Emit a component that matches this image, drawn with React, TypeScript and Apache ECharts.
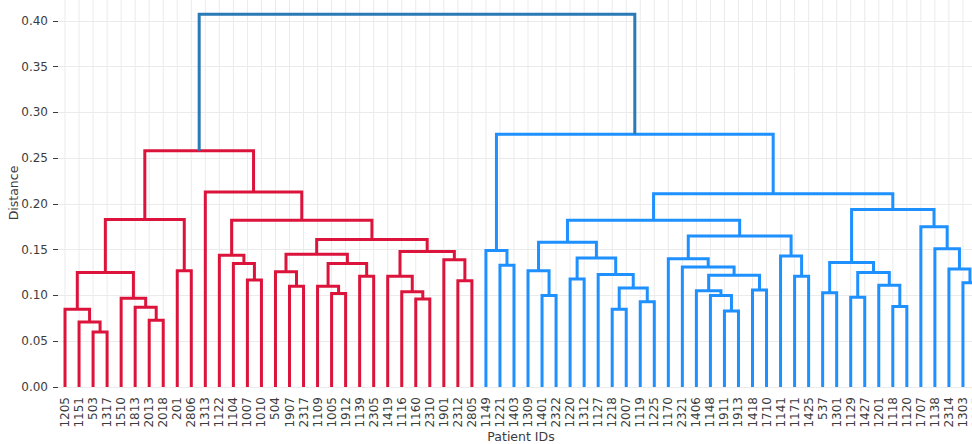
import React, { useEffect, useRef } from 'react';
import * as echarts from 'echarts';

// Leaf (patient) labels in dendrogram order
const leafLabels: string[] = [
  '1205', '1151', '503', '1317', '1510', '1813', '2013', '2018', '201', '2806',
  '1313', '1122', '1104', '1007', '1010', '504', '1907', '2317', '1109', '1005',
  '1912', '1139', '2305', '1419', '1116', '1160', '2310', '1901', '2312', '2805',
  '1149', '1221', '1403', '1309', '1401', '2322', '1220', '1312', '1127', '1218',
  '2007', '1119', '1225', '1170', '2321', '1406', '1148', '1911', '1913', '1418',
  '1710', '1141', '1171', '1425', '537', '1301', '1129', '1427', '1201', '1118',
  '1120', '1707', '1138', '2314', '1303', '1315',
];

// Linkage (scipy style): indices < n are leaves, >= n are previous merges (n + k)
const mergeLeft: number[] = [
  2, 1, 0, 6, 5, 4, 68, 8, 72, 13, 12, 11, 16, 15, 19, 18, 21, 81, 79, 25,
  24, 23, 28, 27, 87, 84, 77, 10, 74,
  31, 30, 34, 33, 36, 39, 41, 100, 38, 99, 98, 47, 46, 45, 49, 108, 44, 43, 52, 51,
  112, 105, 54, 56, 59, 58, 118, 117, 64, 63, 62, 61, 122, 116, 96, 94,
];
const mergeRight: number[] = [
  3, 66, 67, 7, 69, 70, 71, 9, 73, 14, 75, 76, 17, 78, 20, 80, 22, 82, 83, 26,
  85, 86, 29, 88, 89, 90, 91, 92, 93,
  32, 95, 35, 97, 37, 40, 42, 101, 102, 103, 104, 48, 106, 107, 50, 109, 110, 111, 53, 113,
  114, 115, 55, 57, 60, 119, 120, 121, 65, 123, 124, 125, 126, 127, 128, 129,
];
const mergeHeight: number[] = [
  0.060, 0.071, 0.085, 0.073, 0.087, 0.097, 0.125, 0.127, 0.183, 0.117,
  0.135, 0.144, 0.110, 0.126, 0.102, 0.110, 0.121, 0.135, 0.145, 0.096,
  0.104, 0.121, 0.116, 0.139, 0.148, 0.161, 0.182, 0.213, 0.258,
  0.133, 0.149, 0.100, 0.127, 0.118, 0.085, 0.093, 0.108, 0.123, 0.141,
  0.158, 0.083, 0.100, 0.105, 0.106, 0.122, 0.131, 0.140, 0.121, 0.143,
  0.165, 0.182, 0.103, 0.098, 0.088, 0.111, 0.125, 0.136, 0.114, 0.129,
  0.151, 0.175, 0.194, 0.211, 0.276, 0.407,
];

const colorThreshold = 0.3;
const clusterPalette = ['#DC143C', '#1E90FF'];
const aboveThresholdColor = '#2A7AB6';
const yTicks = [0, 0.05, 0.1, 0.15, 0.2, 0.25, 0.3, 0.35, 0.4];

function buildLinks() {
  const n = leafLabels.length;
  const pos: number[] = leafLabels.map((_, i) => i + 0.5);
  const hgt: number[] = leafLabels.map(() => 0);
  const links: number[][] = [];
  mergeLeft.forEach((a, k) => {
    const b = mergeRight[k];
    const h = mergeHeight[k];
    links.push([pos[a], pos[b], hgt[a], hgt[b], h]);
    pos.push((pos[a] + pos[b]) / 2);
    hgt.push(h);
  });
  // colour assignment (like scipy color_threshold)
  const colors: string[] = new Array(links.length).fill(aboveThresholdColor);
  let next = 0;
  const paint = (node: number, color: string | null) => {
    if (node < n) return;
    const k = node - n;
    let c = color;
    if (c === null && mergeHeight[k] < colorThreshold) {
      c = clusterPalette[next % clusterPalette.length];
      next++;
    }
    colors[k] = c === null ? aboveThresholdColor : c;
    paint(mergeLeft[k], c);
    paint(mergeRight[k], c);
  };
  paint(n + mergeLeft.length - 1, null);
  return { links, colors };
}

export default function App() {
  const ref = useRef<HTMLDivElement>(null);
  useEffect(() => {
    if (!ref.current) return;
    const chart = echarts.init(ref.current, undefined, { renderer: 'svg' });
    const { links, colors } = buildLinks();
    const font = 'DejaVu Sans';
    const textColor = '#3c3c3c';
    const gridColor = '#ebebeb';
    const yMax = 0.45;
    chart.setOption({
      animation: false,
      backgroundColor: '#ffffff',
      textStyle: { fontFamily: font },
      grid: {
        left: 58,
        right: -12,
        top: -25,
        bottom: 57,
        containLabel: false,
        outerBoundsMode: 'none',
      },
      xAxis: [
        {
          type: 'category',
          data: leafLabels,
          boundaryGap: true,
          axisLine: { show: false },
          axisTick: { show: false },
          splitLine: { show: false },
          axisLabel: {
            interval: 0,
            rotate: 90,
            margin: 10,
            fontSize: 12,
            color: textColor,
            fontFamily: font,
          },
          name: 'Patient IDs',
          nameLocation: 'middle',
          nameGap: 43,
          nameMoveOverlap: false,
          nameTextStyle: { fontSize: 12.5, color: textColor, fontFamily: font, lineHeight: 13 },
        },
        {
          type: 'value',
          min: 0,
          max: leafLabels.length,
          show: false,
        },
      ],
      yAxis: {
        type: 'value',
        min: 0,
        max: yMax,
        interval: 0.05,
        axisLine: { show: false },
        axisTick: { show: true, length: 5, lineStyle: { color: textColor, width: 1 } },
        axisLabel: {
          margin: 10,
          fontSize: 12,
          color: textColor,
          fontFamily: font,
          formatter: (v: number) => (yTicks.some((t) => Math.abs(t - v) < 1e-9) ? v.toFixed(2) : ''),
        },
        splitLine: { show: true, lineStyle: { color: gridColor, width: 1 } },
      },
      graphic: [
        {
          type: 'text',
          x: 13,
          y: 193,
          rotation: Math.PI / 2,
          style: {
            text: 'Distance',
            fontSize: 12.5,
            fontFamily: font,
            fill: textColor,
            align: 'center',
            verticalAlign: 'middle',
          },
        },
      ],
      series: [
        {
          type: 'custom',
          name: 'grid',
          xAxisIndex: 1,
          yAxisIndex: 0,
          z: 1,
          silent: true,
          data: leafLabels.map((_, i) => [i + 0.5]),
          renderItem: (params: any, api: any) => {
            const x = api.value(0);
            const p1 = api.coord([x, 0]);
            const p2 = api.coord([x, yMax]);
            return {
              type: 'line',
              shape: { x1: p1[0], y1: p1[1], x2: p2[0], y2: p2[1] },
              style: { stroke: gridColor, lineWidth: 1 },
            };
          },
        },
        {
          type: 'custom',
          name: 'links',
          xAxisIndex: 1,
          yAxisIndex: 0,
          z: 3,
          data: links,
          renderItem: (params: any, api: any) => {
            const x1 = api.value(0);
            const x2 = api.value(1);
            const y1 = api.value(2);
            const y2 = api.value(3);
            const yt = api.value(4);
            const pts = [
              api.coord([x1, y1]),
              api.coord([x1, yt]),
              api.coord([x2, yt]),
              api.coord([x2, y2]),
            ];
            return {
              type: 'polyline',
              shape: { points: pts },
              style: {
                stroke: colors[params.dataIndex],
                lineWidth: 3,
                fill: null,
                lineJoin: 'miter',
              },
            };
          },
        },
      ],
    });
    return () => chart.dispose();
  }, []);
  return (
    <div
      ref={ref}
      style={{ position: 'fixed', left: 0, top: 0, width: 972, height: 444, background: '#fff' }}
    />
  );
}
